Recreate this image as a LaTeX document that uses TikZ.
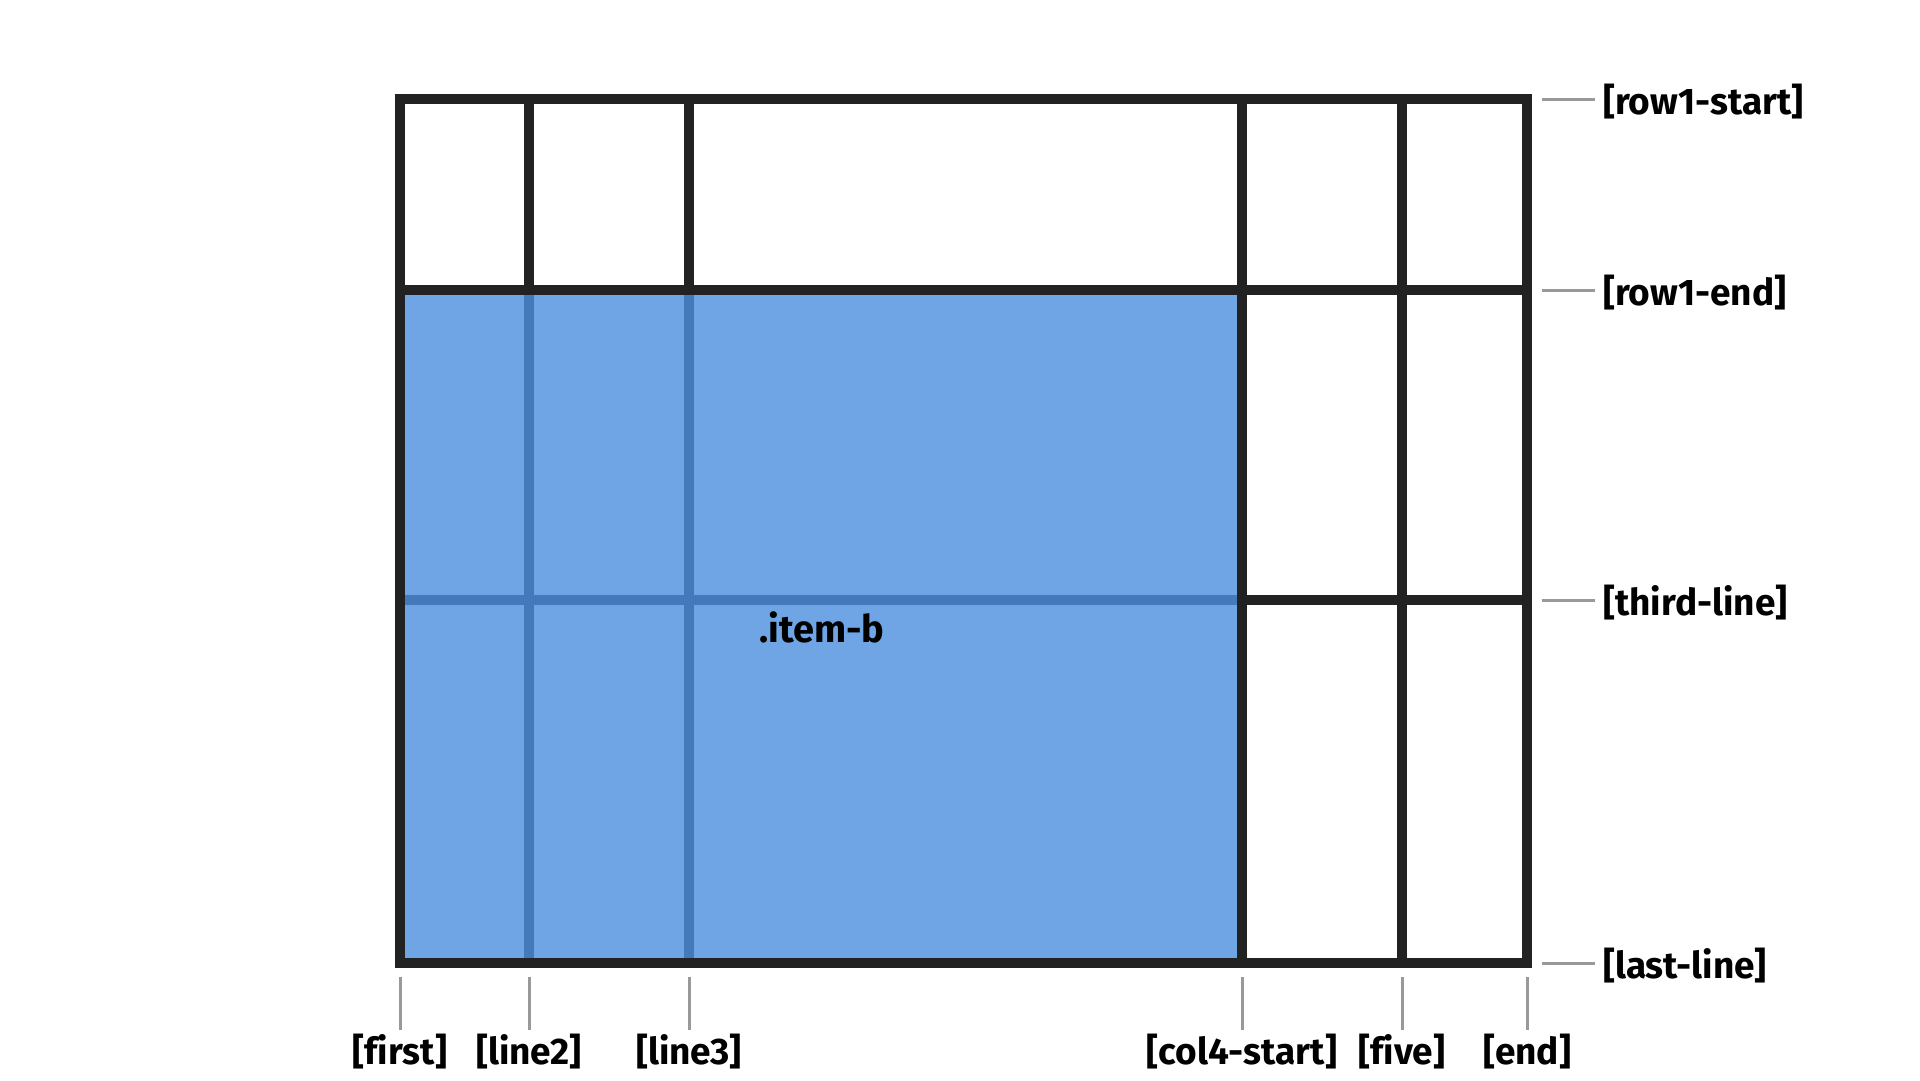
\documentclass[tikz,border=0pt]{standalone}
\usepackage{fontspec}
\setmainfont{Fira Sans}[Ligatures=NoCommon]
\definecolor{gridline}{HTML}{222222}
\definecolor{tickgray}{HTML}{999999}
\definecolor{itemblue}{HTML}{6FA5E5}
\definecolor{itemline}{HTML}{4479BB}
\tikzset{
  gridstroke/.style={draw=gridline, line width=10pt},
  innerstroke/.style={draw=itemline, line width=10pt},
  tick/.style={draw=tickgray, line width=3pt},
  linelabel/.style={font=\fontsize{37}{42}\selectfont\bfseries, inner sep=0pt, text=black},
  itemlabel/.style={font=\fontsize{38}{44}\selectfont\bfseries, inner sep=0pt, text=black}
}
\begin{document}
\begin{tikzpicture}[x=1pt,y=-1pt]
\useasboundingbox (0,0) rectangle (1920,1080);
% grid lines
\draw[gridstroke] (400,99) rectangle (1527,963);
\foreach \x in {529,689,1242,1402} \draw[gridstroke] (\x,99) -- (\x,963);
\foreach \y in {290,600} \draw[gridstroke] (400,\y) -- (1527,\y);
% item-b area
\fill[itemblue] (405,295) rectangle (1237,958);
\foreach \x in {529,689} \draw[innerstroke] (\x,295) -- (\x,958);
\draw[innerstroke] (405,600) -- (1237,600);
\node[itemlabel, anchor=base west] (itemb) at (759,642) {.item-b};
% row labels
\foreach \n/\y/\t in {r1/99/row1-start, r2/290/row1-end, r3/600/third-line, r4/963/last-line}{
  \coordinate (\n a) at (1542,\y);
  \coordinate (\n b) at (1595,\y);
  \draw[tick] (\n a) -- (\n b);
  \node[linelabel, anchor=base west] (\n) at (1603,\y+15) {[\t]};
}
% column labels
\foreach \n/\x/\t in {c1/400/first, c2/529/line2, c3/689/line3, c4/1242/col4-start, c5/1402/five, c6/1527/end}{
  \coordinate (\n a) at (\x,977);
  \coordinate (\n b) at (\x,1030);
  \draw[tick] (\n a) -- (\n b);
  \node[linelabel, anchor=base] (\n) at (\x,1064) {[\t]};
}
\end{tikzpicture}
\end{document}
